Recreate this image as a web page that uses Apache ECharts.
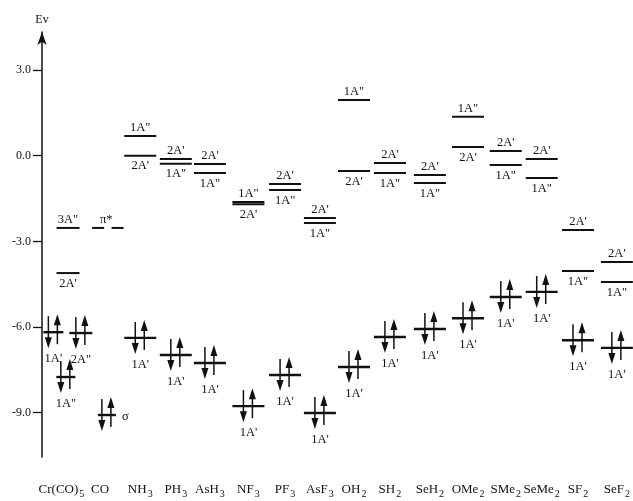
<!DOCTYPE html>
<html>
<head>
<meta charset="utf-8">
<script src="https://cdn.jsdelivr.net/npm/echarts@6/dist/echarts.min.js"></script>
<style>
  html, body { margin: 0; padding: 0; background: #fff; }
  #main { width: 633px; height: 501px; }
</style>
</head>
<body>
<div id="main"></div>
<script>
// 分子名称(下标另列)及横向位置(列单位)
var names = ['Cr(CO)', 'CO', 'NH', 'PH', 'AsH', 'NF', 'PF', 'AsF', 'OH', 'SH', 'SeH', 'OMe', 'SMe', 'SeMe', 'SF', 'SeF'];
var nameSub = ['5', '', '3', '3', '3', '3', '3', '3', '2', '2', '2', '2', '2', '2', '2', '2'];
var namePos = [-0.15, 0.95, 2, 2.97, 3.9, 4.95, 5.95, 6.9, 7.83, 8.81, 9.9, 10.94, 11.97, 12.95, 13.94, 15];

// 配体: 两个空轨道 + 一个占据轨道(1A')
var ligandPos = [2, 2.97, 3.9, 4.95, 5.95, 6.9, 7.83, 8.81, 9.9, 10.94, 11.97, 12.95, 13.94, 15];
var upperE = [0.69, -0.12, -0.29, -1.62, -0.99, -2.18, 1.95, -0.26, -0.68, 1.36, 0.16, -0.12, -2.6, -3.72];
var upperLabel = ['1A"', "2A'", "2A'", '1A"', "2A'", "2A'", '1A"', "2A'", "2A'", '1A"', "2A'", "2A'", "2A'", "2A'"];
var lowerE = [0.0, -0.28, -0.61, -1.7, -1.2, -2.36, -0.54, -0.61, -0.96, 0.3, -0.33, -0.78, -4.04, -4.42];
var lowerLabel = ["2A'", '1A"', '1A"', "2A'", '1A"', '1A"', "2A'", '1A"', '1A"', "2A'", '1A"', '1A"', '1A"', '1A"'];
var homoE = [-6.38, -6.98, -7.26, -8.77, -7.68, -9.01, -7.4, -6.35, -6.07, -5.69, -4.95, -4.77, -6.46, -6.73];

// Cr(CO)5 片段
var crPos = [0.03, 0.03, -0.37, 0.38, -0.03];
var crE = [-2.53, -4.11, -6.18, -6.21, -7.75];
var crLabel = ['3A"', "2A'", "1A'", '2A"', '1A"'];
var crOcc = [0, 0, 1, 1, 1];

// CO
var piStarE = -2.53;
var sigmaE = -9.08;

var yTicks = [-9, -6, -3, 0, 3];

var FONT = '"Liberation Serif", "DejaVu Serif", serif';

// 组装能级列表
var levels = [];
for (var i = 0; i < crE.length; i++) {
    levels.push({x: crPos[i], e: crE[i], w: i === 2 ? 20 : (i === 4 ? 19 : 23), text: crLabel[i],
        side: crOcc[i] ? 'occ' : (i === 0 ? 'above' : 'below'), occ: crOcc[i]});
}
levels.push({x: 0.85, e: piStarE, w: 12, text: '', side: 'none', occ: 0});
levels.push({x: 1.38, e: piStarE, w: 12, text: '', side: 'none', occ: 0});
levels.push({x: 1.07, e: piStarE, w: 0, text: 'π*', side: 'above', occ: 0});
levels.push({x: 1.09, e: sigmaE, w: 18, text: 'σ', side: 'right', occ: 1});
for (var j = 0; j < ligandPos.length; j++) {
    levels.push({x: ligandPos[j], e: upperE[j], w: 32, text: upperLabel[j], side: 'above', occ: 0});
    levels.push({x: ligandPos[j], e: lowerE[j], w: 32, text: lowerLabel[j], side: 'below', occ: 0});
    levels.push({x: ligandPos[j], e: homoE[j], w: 32, text: "1A'", side: 'occ', occ: 1});
}

function textEl(str, x, y, align, vAlign) {
    return {
        type: 'text',
        style: {
            text: str, x: x, y: y, fill: '#111', font: '12.5px ' + FONT,
            align: align, verticalAlign: vAlign, textAlign: align, textVerticalAlign: vAlign
        }
    };
}

function renderLevel(params, api) {
    var lv = levels[params.dataIndex];
    var p = api.coord([api.value(0), api.value(1)]);
    var cx = p[0], cy = p[1], half = lv.w / 2;
    var children = [];
    if (lv.w > 0) {
        children.push({
            type: 'line',
            shape: {x1: cx - half, y1: cy, x2: cx + half, y2: cy},
            style: {stroke: '#111', lineWidth: lv.occ ? 2.4 : 2}
        });
    }
    if (lv.occ) {
        //自旋向下
        var dx = cx - 5;
        children.push({type: 'line', shape: {x1: dx, y1: cy - 16, x2: dx, y2: cy + 7}, style: {stroke: '#111', lineWidth: 1.5}});
        children.push({type: 'polygon', shape: {points: [[dx - 3.5, cy + 5], [dx + 3.5, cy + 5], [dx, cy + 16]]}, style: {fill: '#111'}});
        //自旋向上
        var ux = cx + 4;
        children.push({type: 'line', shape: {x1: ux, y1: cy + 12, x2: ux, y2: cy - 9}, style: {stroke: '#111', lineWidth: 1.5}});
        children.push({type: 'polygon', shape: {points: [[ux - 3.5, cy - 7], [ux + 3.5, cy - 7], [ux, cy - 18]]}, style: {fill: '#111'}});
    }
    if (lv.side === 'above') {
        children.push(textEl(lv.text, cx, cy - 2, 'center', 'bottom'));
    } else if (lv.side === 'below') {
        children.push(textEl(lv.text, cx, cy + 4, 'center', 'top'));
    } else if (lv.side === 'occ') {
        children.push(textEl(lv.text, cx, cy + 20, 'center', 'top'));
    } else if (lv.side === 'right') {
        children.push(textEl(lv.text, cx + 15, cy + 2, 'left', 'middle'));
    }
    return {type: 'group', children: children};
}

var chart = echarts.init(document.getElementById('main'));
var option = {
    backgroundColor: '#fff',
    animation: false,
    grid: {left: 42, right: 0, top: 32, bottom: 44, containLabel: false},
    xAxis: {
        type: 'value',
        min: -0.68,
        max: 15.44,
        splitLine: {show: false},
        axisLine: {show: false, onZero: false},
        axisTick: {show: false},
        axisLabel: {
            customValues: namePos,
            margin: 24,
            color: '#111',
            fontFamily: FONT,
            fontSize: 13,
            hideOverlap: false,
            formatter: function (v) {
                var k = namePos.indexOf(v);
                if (k < 0) return '';
                // 没有下标时补一个空白下标, 保持基线一致
                return '{n|' + names[k] + '}{s|' + (nameSub[k] || ' ') + '}';
            },
            rich: {
                n: {fontFamily: FONT, fontSize: 13, color: '#111'},
                s: {fontFamily: FONT, fontSize: 10, color: '#111', padding: [8, 0, 0, 1]}
            }
        }
    },
    yAxis: {
        type: 'value',
        min: -10.55,
        max: 4.33,
        name: 'Ev',
        nameLocation: 'end',
        nameGap: 6,
        nameTextStyle: {color: '#111', fontFamily: FONT, fontSize: 12},
        splitLine: {show: false},
        axisLine: {
            show: true,
            onZero: false,
            symbol: ['none', 'arrow'],
            symbolSize: [7, 13],
            lineStyle: {color: '#111', width: 1.5}
        },
        axisTick: {customValues: yTicks, length: 9, lineStyle: {color: '#111', width: 1.3}},
        axisLabel: {
            customValues: yTicks,
            margin: 11,
            color: '#111',
            fontFamily: FONT,
            fontSize: 12,
            formatter: function (v) { return v.toFixed(1); }
        }
    },
    series: [{
        type: 'custom',
        renderItem: renderLevel,
        data: levels.map(function (lv) { return [lv.x, lv.e]; }),
        clip: false
    }]
};
chart.setOption(option);
</script>
</body>
</html>
